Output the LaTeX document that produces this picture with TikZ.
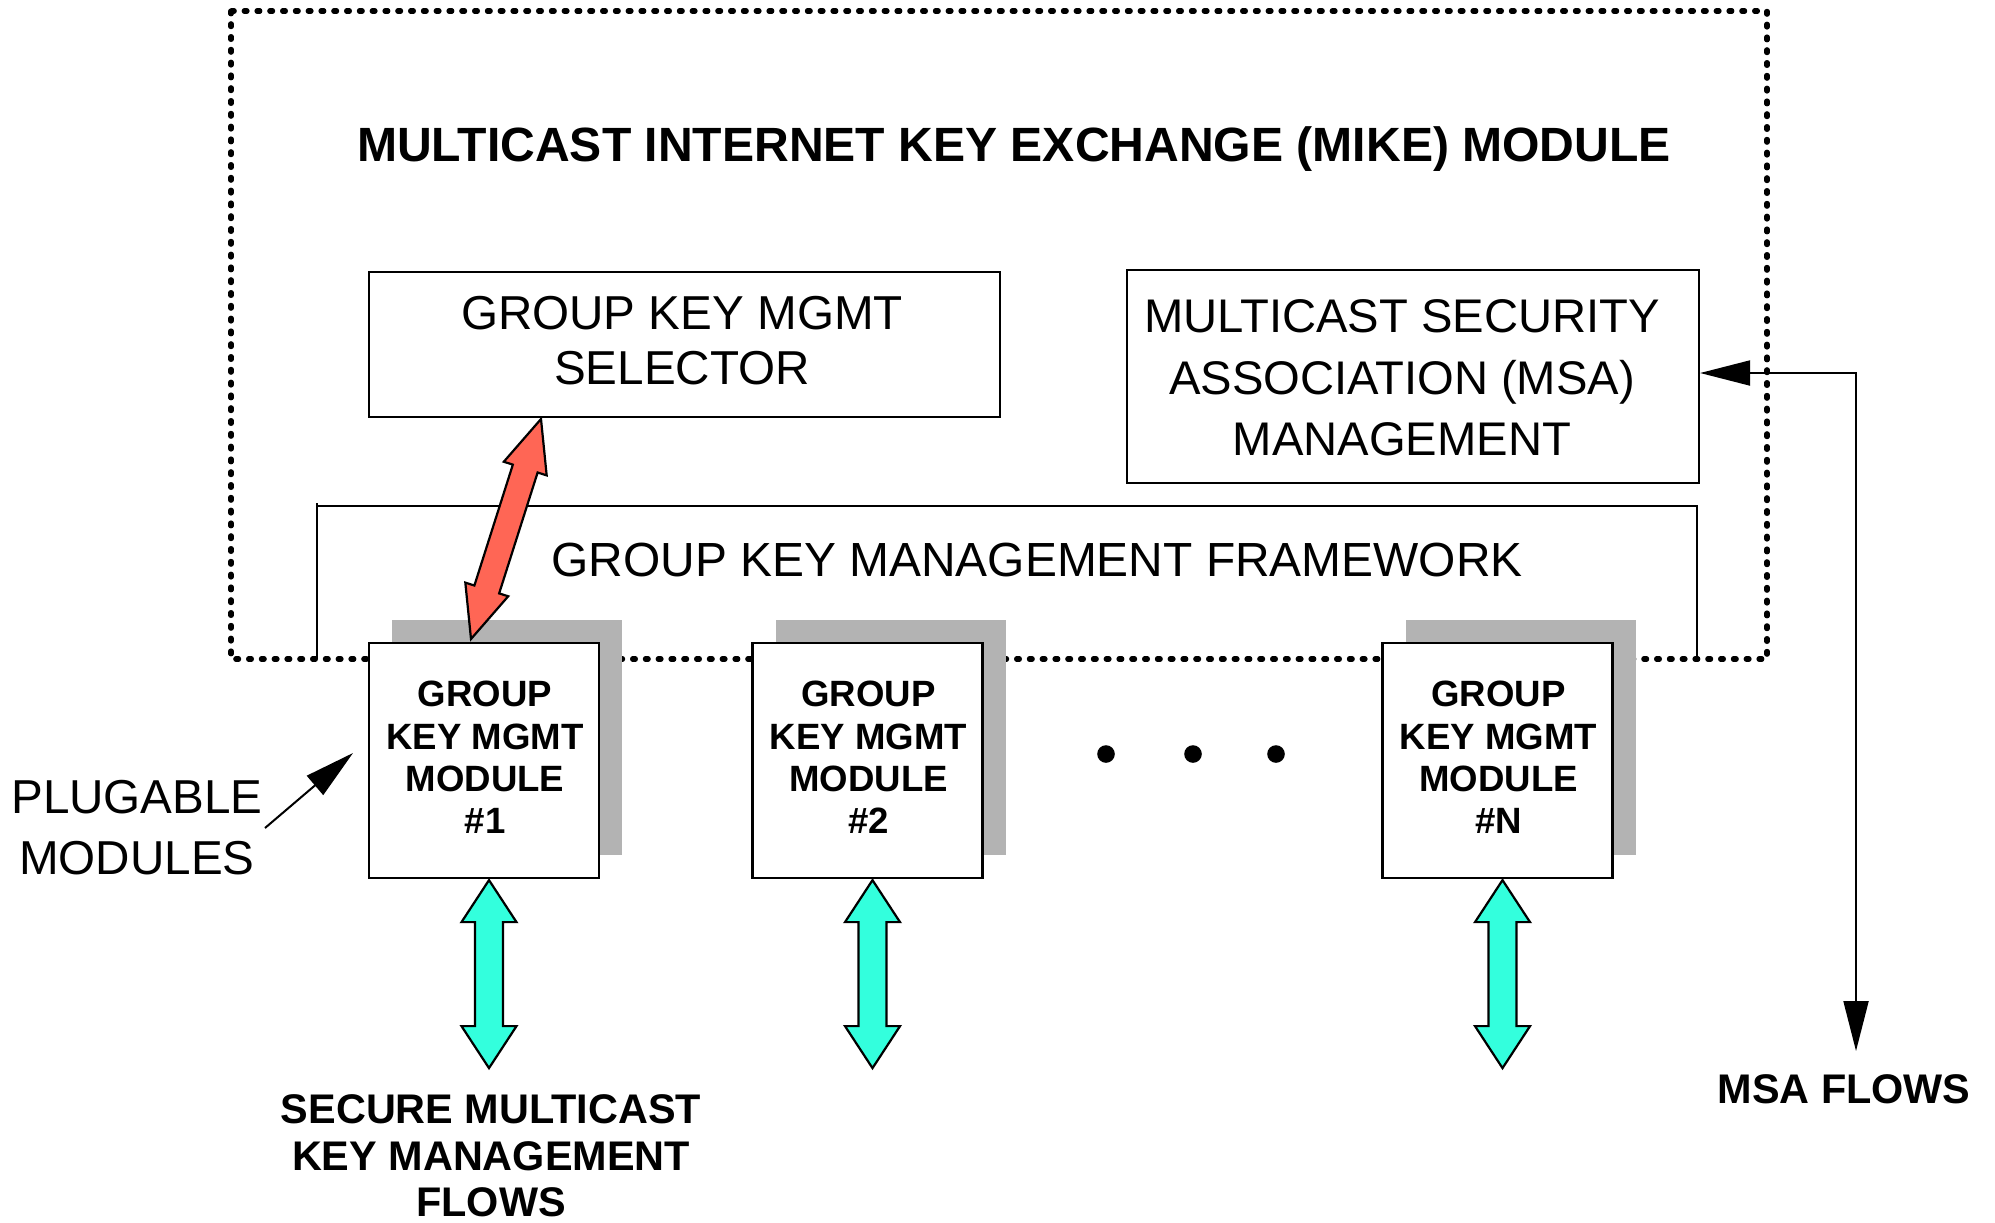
\documentclass[tikz,border=0pt]{standalone}
\usepackage{fontspec}
\setmainfont{Liberation Sans}
\usetikzlibrary{calc,arrows.meta}
\definecolor{shadowgray}{HTML}{B3B3B3}
\definecolor{redfill}{HTML}{FF6655}
\definecolor{cyanfill}{HTML}{33FFDD}
\tikzset{
  box/.style={draw, line width=1.1pt, fill=white, inner sep=0pt},
  modbox/.style={box, minimum width=115pt, minimum height=117.5pt, align=center,
    font=\bfseries\fontsize{18.3}{21.1}\selectfont},
  plain/.style={inner sep=0pt, align=center, font=\fontsize{23.8}{27.5}\selectfont},
  boldlabel/.style={inner sep=0pt, align=center, font=\bfseries\fontsize{20.7}{23.3}\selectfont},
  thinarrow/.style={line width=1pt},
  tipA/.tip={Triangle[length=25pt, width=12.5pt]},
  dotline/.style={line width=2.6pt, dash pattern=on 1.4pt off 5pt, line cap=round},
  framework/.style={line width=1.3pt},
}
\newcommand\mkblockarrow[6]{%
  \coordinate (hA) at ($(#1)!#5!(#2)$);
  \coordinate (hB) at ($(#2)!#5!(#1)$);
  \filldraw[fill=#6, draw=black, line width=1.1pt, line join=miter]
    (#1) -- ($(hA)!#4!90:(#2)$) -- ($(hA)!#3!90:(#2)$) -- ($(hB)!#3!-90:(#1)$)
    -- ($(hB)!#4!-90:(#1)$) -- (#2) -- ($(hB)!#4!90:(#1)$) -- ($(hB)!#3!90:(#1)$)
    -- ($(hA)!#3!-90:(#2)$) -- ($(hA)!#4!-90:(#2)$) -- cycle;
}
\begin{document}
\begin{tikzpicture}[x=0.5pt, y=-0.5pt]
\useasboundingbox (0,0) rectangle (1995,1222);
% outer dotted MIKE module
\draw[dotline] (231,11) rectangle (1767,659);
\node[inner sep=0pt, font=\bfseries\fontsize{24.05}{29}\selectfont] (title) at (1014,149)
  {MULTICAST INTERNET KEY EXCHANGE (MIKE) MODULE};
% selector
\node[box, minimum width=315.5pt, minimum height=72.5pt] (sel) at (684.5,344.5) {};
\node[plain] (seltext) at (682,341) {GROUP KEY MGMT\\SELECTOR};
% MSA management
\node[box, minimum width=286pt, minimum height=106.5pt] (msa) at (1413,376.5) {};
\node[plain, font=\fontsize{23.6}{30.8}\selectfont] (msatext) at (1402,378)
  {MULTICAST SECURITY\\ASSOCIATION (MSA)\\MANAGEMENT};
% framework bracket
\coordinate (fwl) at (317,659);
\coordinate (fwr) at (1697,659);
\draw[framework] (fwl) -- (317,503) -- (317,506) -- (1697,506) -- (fwr);
\node[plain, font=\fontsize{23.95}{28}\selectfont] (fwtext) at (1037,560)
  {GROUP KEY MANAGEMENT FRAMEWORK};
% modules with shadows
\foreach \nm/\cx/\lab in {m1/484/\#1, m2/867.5/\#2, mN/1497.5/\#N}{
  \fill[shadowgray] (\cx-115+23,643-23) rectangle (\cx+115+23,878-23);
  \node[modbox] (\nm) at (\cx,760.5) {};
  \node[inner sep=0pt, align=center, font=\bfseries\fontsize{18.3}{21.1}\selectfont]
    (\nm text) at (\cx+1,757.5) {GROUP\\KEY MGMT\\MODULE\\\lab};
}
% dots
\foreach \dx in {1106,1193,1276}{
  \fill (\dx,754) circle (4.4pt);
}
% red arrow selector <-> module 1
\coordinate (ra) at (541,419);
\coordinate (rb) at (471,639);
\mkblockarrow{ra}{rb}{6.5pt}{11.25pt}{26pt}{redfill}
% cyan arrows
\foreach \nm/\k in {m1/1, m2/2, mN/3}{
  \coordinate (ca\k) at ($(\nm.south)+(5,1)$);
  \coordinate (cb\k) at ($(\nm.south)+(5,189)$);
}
\mkblockarrow{ca1}{cb1}{7pt}{13.75pt}{21pt}{cyanfill}
\mkblockarrow{ca2}{cb2}{7pt}{13.75pt}{21pt}{cyanfill}
\mkblockarrow{ca3}{cb3}{7pt}{13.75pt}{21pt}{cyanfill}
% secure multicast label
\node[boldlabel] (smk) at (491,1156) {SECURE MULTICAST\\KEY MANAGEMENT\\FLOWS};
% MSA flows
\node[boldlabel] (msaflows) at (1844,1089) {MSA FLOWS};
\coordinate (msacorner) at (1856,373);
\coordinate (msatip) at (1856,1051);
\draw[thinarrow, tipA-tipA] (msa.east |- msacorner) -- (msacorner) -- (msatip);
% plugable modules
\node[plain, font=\fontsize{23.8}{30.5}\selectfont] (plug) at (137,827.5) {PLUGABLE\\MODULES};
\coordinate (plugtail) at (265,828);
\coordinate (plugtip) at (353,753);
\draw[thinarrow, -tipA] (plugtail) -- (plugtip);
\end{tikzpicture}
\end{document}
